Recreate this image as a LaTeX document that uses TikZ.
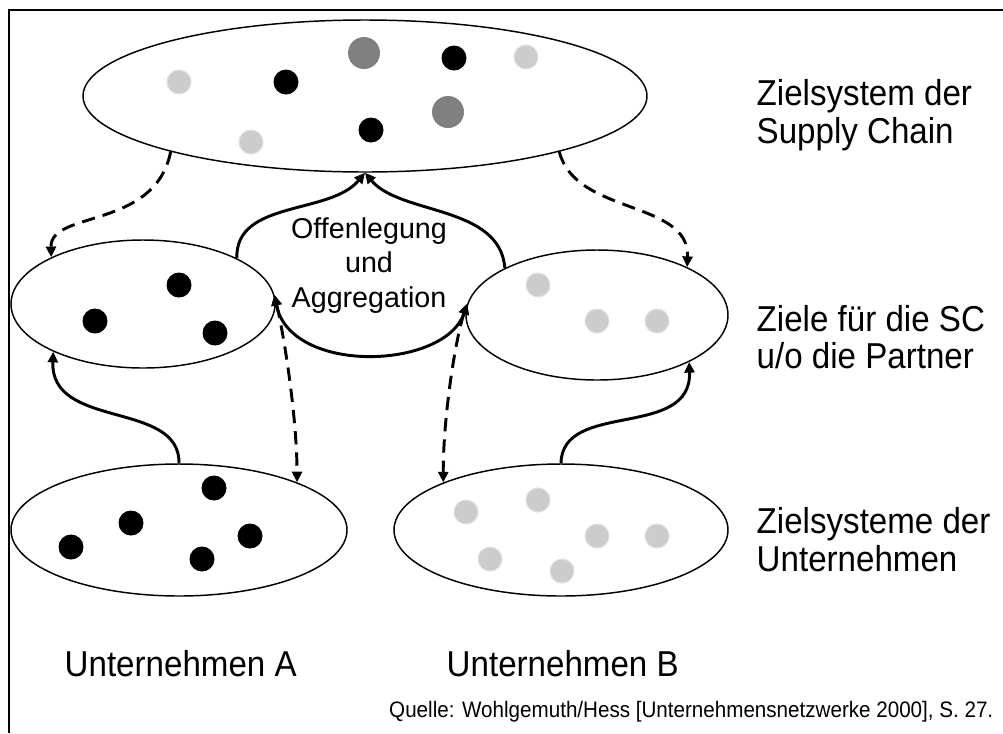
\documentclass[tikz,border=0pt]{standalone}
\usepackage{fontspec}
\setmainfont{Liberation Sans}
\newfontfamily\narrowsans{Liberation Sans}[FakeStretch=0.92]
\usetikzlibrary{arrows.meta,shapes.geometric}
\begin{document}
\begin{tikzpicture}[x=0.75pt,y=-0.75pt,
  goal/.style={ellipse, draw, line width=1.1pt, inner sep=0pt},
  blackdot/.style={fill=black},
  darkdot/.style={fill=black!50},
  lightdot/.style={fill=black!20, draw=black!12, line width=0.8pt},
  flow/.style={line width=2.2pt, -{Triangle[length=8pt,width=7.5pt]}},
  link/.style={line width=2.2pt, dash pattern=on 10pt off 6pt},
  both/.style={{Triangle[length=8pt,width=7.5pt]}-{Triangle[length=8pt,width=7.5pt]}},
  ahead/.style={-{Triangle[length=8pt,width=7.5pt]}},
  lab/.style={font=\narrowsans\fontsize{27}{32}\selectfont},
  agglab/.style={font=\fontsize{21.5}{26}\selectfont},
  srclab/.style={font=\narrowsans\fontsize{16.8}{20}\selectfont}]
\useasboundingbox (0,0) rectangle (1003,733);

% frame, open at the right and at the bottom
\draw[line width=1.6pt] (9,733) -- (9,10) -- (1003,10);

% goal systems
\node[goal, minimum width=423pt, minimum height=114pt] (sc) at (365,96) {};
\node[goal, minimum width=198pt, minimum height=96pt] (ml) at (143,304) {};
\node[goal, minimum width=196.5pt, minimum height=97.5pt] (mr) at (597,315) {};
\node[goal, minimum width=252pt, minimum height=99pt] (bl) at (179,530) {};
\node[goal, minimum width=250.5pt, minimum height=99pt] (br) at (561,530) {};

% goals of the supply chain
\fill[lightdot] (179,82) circle (12);
\fill[blackdot] (286,82) circle (12.5);
\fill[darkdot]  (364,53) circle (16);
\fill[blackdot] (454,58) circle (12.5);
\fill[lightdot] (526,57) circle (12);
\fill[darkdot]  (448,112) circle (16);
\fill[blackdot] (371,130) circle (12.5);
\fill[lightdot] (251,142) circle (12);

% SC goals of partner A
\fill[blackdot] (179,285) circle (12.5);
\fill[blackdot] (95,321) circle (12.5);
\fill[blackdot] (215,333) circle (12.5);

% SC goals of partner B
\fill[lightdot] (538,285) circle (12);
\fill[lightdot] (597,321) circle (12);
\fill[lightdot] (657,321) circle (12);

% goals of company A
\fill[blackdot] (214,488) circle (12.5);
\fill[blackdot] (131,523) circle (12.5);
\fill[blackdot] (71,547) circle (12.5);
\fill[blackdot] (250,536) circle (12.5);
\fill[blackdot] (202,559) circle (12.5);

% goals of company B
\fill[lightdot] (466,512) circle (12);
\fill[lightdot] (538,500) circle (12);
\fill[lightdot] (597,536) circle (12);
\fill[lightdot] (657,536) circle (12);
\fill[lightdot] (490,559) circle (12);
\fill[lightdot] (562,571) circle (12);

% derivation of partner goals from the supply chain goals
\draw[link, ahead] (sc.196) .. controls (155,230) and (50,210) .. (ml.153);
\draw[link, ahead] (sc.344) .. controls (575,215) and (690,200) .. (mr.28);

% disclosure and aggregation
\draw[flow] (ml.26) .. controls (235,200) and (330,215) .. (sc.south);
\draw[flow] (mr.153) .. controls (500,205) and (400,215) .. (sc.south);
\draw[line width=2.2pt, both] (ml.4) .. controls (290,375) and (445,370) .. (mr.175);

% alignment between company goals and partner goals
\draw[link, both] (ml.4) .. controls (285,340) and (297,420) .. (bl.22);
\draw[link, both] (mr.175) .. controls (455,340) and (443,420) .. (br.158);

% contribution of company goals
\draw[flow] (bl.north) .. controls (180,400) and (50,430) .. (ml.208);
\draw[flow] (br.north) .. controls (562,400) and (692,440) .. (mr.333);

% labels
\node[agglab, anchor=base] (agg1) at (369,238) {Offenlegung};
\node[agglab, anchor=base] (agg2) at (369,272) {und};
\node[agglab, anchor=base] (agg3) at (369,307) {Aggregation};

\node[lab, anchor=base west] (l1a) at (752,105) {Zielsystem der};
\node[lab, anchor=base west] (l1b) at (752,143) {Supply Chain};
\node[lab, anchor=base west] (l2a) at (752,331) {Ziele für die SC};
\node[lab, anchor=base west] (l2b) at (752,368) {u/o die Partner};
\node[lab, anchor=base west] (l3a) at (752,533) {Zielsysteme der};
\node[lab, anchor=base west] (l3b) at (752,571) {Unternehmen};

\node[lab, anchor=base west] (ua) at (60,676) {Unternehmen A};
\node[lab, anchor=base west] (ub) at (442,676) {Unternehmen B};

\node[srclab, anchor=base east] (src) at (998,717) {Quelle: Wohlgemuth/Hess [Unternehmensnetzwerke 2000], S. 27.};
\end{tikzpicture}
\end{document}
